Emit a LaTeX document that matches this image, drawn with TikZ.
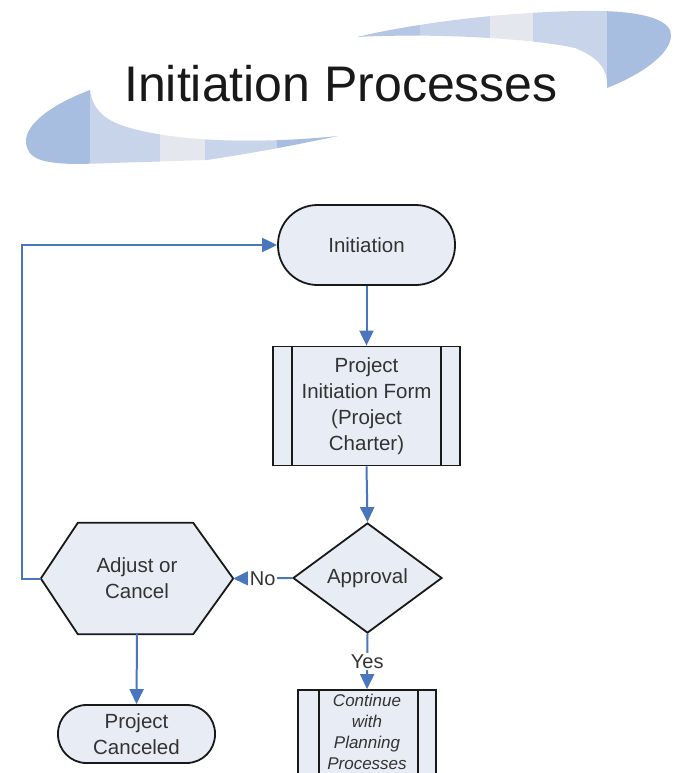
\documentclass[tikz,border=0pt]{standalone}
\usepackage{fontspec}
\setmainfont{Liberation Sans}
\usetikzlibrary{shapes.geometric,arrows.meta,calc,backgrounds}
\definecolor{boxfill}{HTML}{E8ECF4}
\definecolor{connblue}{HTML}{4A76BE}
\definecolor{txtgrey}{HTML}{333333}
\definecolor{swA}{HTML}{A8BEE1}
\definecolor{swB}{HTML}{C7D4EA}
\definecolor{swC}{HTML}{E4E7ED}
\definecolor{swD}{HTML}{B5C6E4}
\begin{document}
\begin{tikzpicture}[x=1pt,y=-1pt,
  shapeline/.style={draw=black!90, line width=1.8pt, fill=boxfill},
  nodetext/.style={text=txtgrey, font=\fontsize{20.5}{26}\selectfont, align=center, inner sep=0pt},
  termbox/.style={shapeline, nodetext},
  procbox/.style={shapeline, nodetext},
  diam/.style={shapeline, nodetext, diamond, shape aspect=1.35},
  connline/.style={draw=connblue, line width=2pt, -{Triangle[length=15pt,width=14pt]}},
  lbl/.style={text=txtgrey, font=\fontsize{20}{24}\selectfont, fill=white, inner sep=1.5pt}
]
\useasboundingbox (0,0) rectangle (678,773);
\begin{scope}[on background layer]
\fill[white] (0,0) rectangle (678,773);
\end{scope}

% bottom-left swoosh
\begin{scope}
\clip (90,90) .. controls (50,105) and (25,125) .. (26,142)
  .. controls (27,158) and (40,164) .. (80,164) -- (207,160)
  .. controls (260,152) and (300,144) .. (338,136)
  .. controls (260,144) and (180,142) .. (130,128)
  .. controls (100,120) and (92,105) .. (90,90) -- cycle;
\fill[swA] (0,80) rectangle (90,170);
\fill[swB] (90,80) rectangle (160,170);
\fill[swC] (160,80) rectangle (205,170);
\fill[swB] (205,80) rectangle (277,170);
\fill[swA] (277,80) rectangle (340,170);
\end{scope}

% top-right swoosh
\begin{scope}
\clip (357,37) .. controls (420,22) and (520,10) .. (600,11)
  .. controls (650,12) and (672,22) .. (671,36)
  .. controls (670,55) and (640,75) .. (607,88)
  .. controls (608,70) and (600,58) .. (575,48)
  .. controls (530,38) and (430,33) .. (357,37) -- cycle;
\fill[swD] (350,0) rectangle (420,100);
\fill[swB] (420,0) rectangle (490,100);
\fill[swC] (490,0) rectangle (533,100);
\fill[swB] (533,0) rectangle (607,100);
\fill[swA] (607,0) rectangle (678,100);
\end{scope}

\node[anchor=base, inner sep=0pt, text=black!90, font=\fontsize{50}{60}\selectfont] (title) at (341,102) {Initiation Processes};

% nodes
\node[termbox, minimum width=177pt, minimum height=80pt, rounded corners=39.5pt] (init) at (366.5,245) {Initiation};
\node[procbox, minimum width=187pt, minimum height=119pt] (pif) at (366.5,406) {Project\\Initiation Form\\(Project\\Charter)};
\draw[line width=1.8pt, black!90] ($(pif.north west)+(20,0)$) -- ($(pif.south west)+(20,0)$);
\draw[line width=1.8pt, black!90] ($(pif.north east)+(-20,0)$) -- ($(pif.south east)+(-20,0)$);

\node[diam, minimum width=149pt, minimum height=110pt] (appr) at (367.5,578) {Approval};

\node[nodetext, minimum width=192pt, minimum height=111pt] (adj) at (137,578.5) {Adjust or\\Cancel};
\begin{scope}[on background layer]
\draw[shapeline] (adj.west) -- ($(adj.north west)+(37,0)$) -- ($(adj.north east)+(-40,0)$)
  -- (adj.east) -- ($(adj.south east)+(-40,0)$) -- ($(adj.south west)+(37,0)$) -- cycle;
\end{scope}

\node[termbox, minimum width=157pt, minimum height=58pt, rounded corners=28.5pt] (canc) at (136.5,734) {Project\\Canceled};

\node[procbox, minimum width=138pt, minimum height=84pt, font=\fontsize{17}{21}\itshape\selectfont] (cont) at (367,732) {Continue\\with\\Planning\\Processes};
\draw[line width=1.8pt, black!90] ($(cont.north west)+(22,0)$) -- ($(cont.south west)+(22,0)$);
\draw[line width=1.8pt, black!90] ($(cont.north east)+(-19,0)$) -- ($(cont.south east)+(-19,0)$);

% connectors
\draw[connline] (init.south) -- (pif.north);
\draw[connline] (pif.south) -- (appr.north);
\draw[connline] (appr.west) -- node[lbl] (nolbl) {No} (adj.east);
\draw[connline] (appr.south) -- node[lbl] (yeslbl) {Yes} (cont.north);
\draw[connline] (adj.south) -- (canc.north);
\coordinate (loopc) at (22,578.5);
\draw[connline] (adj.west) -- (loopc) |- (init.west);
\end{tikzpicture}
\end{document}
